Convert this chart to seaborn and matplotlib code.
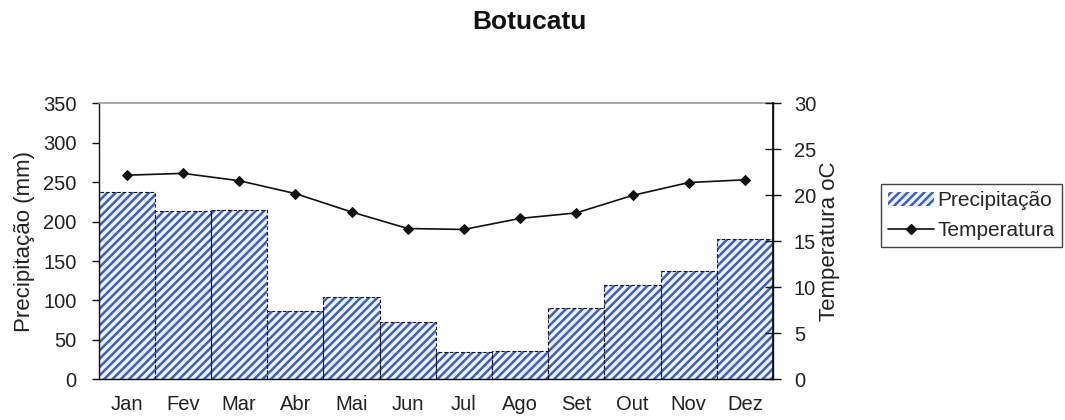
#!/usr/bin/env python3

import numpy as np
import pandas as pd
import seaborn as sns
from matplotlib import pyplot as plt
from matplotlib.patches import Patch
from matplotlib.lines import Line2D

months = ["Jan", "Fev", "Mar", "Abr", "Mai", "Jun", "Jul", "Ago", "Set", "Out", "Nov", "Dez"]
precipitation = [238, 213, 215, 87, 105, 73, 35, 36, 91, 120, 138, 178]
temperature = [22.2, 22.4, 21.6, 20.2, 18.2, 16.4, 16.3, 17.5, 18.1, 20.0, 21.4, 21.7]

hatch_blue = "#3f5fc0"
fill_blue = "#eef5ff"
text_color = "#222222"

sns.set_theme(style="white")
plt.rcParams["font.family"] = ["Liberation Sans", "DejaVu Sans"]
plt.rcParams["hatch.linewidth"] = 1.8

df = pd.DataFrame({"Mes": months, "Precipitacao": precipitation, "Temperatura": temperature})

fig = plt.figure(figsize=(10.65, 4.2), dpi=100)
ax = fig.add_axes([0.0927, 0.0969, 0.6331, 0.6567])

sns.barplot(data=df, x="Mes", y="Precipitacao", width=1.0, color=fill_blue,
            edgecolor=hatch_blue, linewidth=0, ax=ax)
for bar in ax.patches:
    bar.set_hatch("////")
    bar.set_facecolor(fill_blue)
# thin dashed outline on top of the hatch
ax.bar(np.arange(len(months)), precipitation, width=1.0, fill=False,
       edgecolor="#111111", linewidth=0.8, linestyle=(0, (3, 2)), zorder=3)

ax.set_xlim(-0.5, len(months) - 0.5)
ax.set_ylim(0, 350)
ax.set_yticks(range(0, 351, 50))
ax.set_xticks(np.arange(len(months) + 1) - 0.5)
ax.set_xticklabels([])
ax.set_xticks(np.arange(len(months)), minor=True)
ax.set_xticklabels(months, minor=True)
ax.tick_params(axis="x", which="major", direction="out", length=6, width=1, color="#111111")
ax.tick_params(axis="x", which="minor", length=0, pad=11, labelsize=14.5, labelcolor=text_color)
ax.tick_params(axis="y", direction="out", length=5, width=1, color="#111111", pad=11,
               labelsize=14.5, labelcolor=text_color, left=True)
ax.set_xlabel("")
ax.set_ylabel("Precipitação (mm)", fontsize=16, color=text_color, labelpad=6)

for side in ["left", "bottom", "right"]:
    ax.spines[side].set_color("#111111")
    ax.spines[side].set_linewidth(1)
ax.spines["top"].set_color("#999999")
ax.spines["top"].set_linewidth(1.2)

ax2 = ax.twinx()
sns.lineplot(x=np.arange(len(months)), y=temperature, ax=ax2, color="#111111",
             linewidth=1.2, marker="D", markersize=5.5, markeredgecolor="#111111")
ax2.set_ylim(0, 30)
ax2.set_yticks(range(0, 31, 5))
ax2.tick_params(axis="y", direction="inout", length=12, width=1, color="#111111",
                labelsize=14.5, labelcolor=text_color, right=True, pad=9)
ax2.set_ylabel("Temperatura oC", fontsize=16, color=text_color, labelpad=2)
for side in ["left", "bottom", "top"]:
    ax2.spines[side].set_visible(False)
ax2.spines["right"].set_color("#111111")

fig.text(0.497, 0.948, "Botucatu", ha="center", va="center", fontsize=19,
         fontweight="bold", color="#111111")

handles = [
    Patch(facecolor=fill_blue, edgecolor=hatch_blue, hatch="////", linewidth=0),
    Line2D([], [], color="#111111", linewidth=1.2, marker="D", markersize=5.5),
]
leg = fig.legend(handles, ["Precipitação", "Temperatura"], loc="upper left",
                 bbox_to_anchor=(0.827, 0.562), borderaxespad=0, fontsize=15,
                 frameon=True, fancybox=False, handlelength=2.2, handleheight=0.6,
                 handletextpad=0.15, borderpad=0.35, labelspacing=0.5)
leg.get_frame().set_edgecolor("#111111")
leg.get_frame().set_linewidth(1)

fig.savefig("out.png", dpi=100)
